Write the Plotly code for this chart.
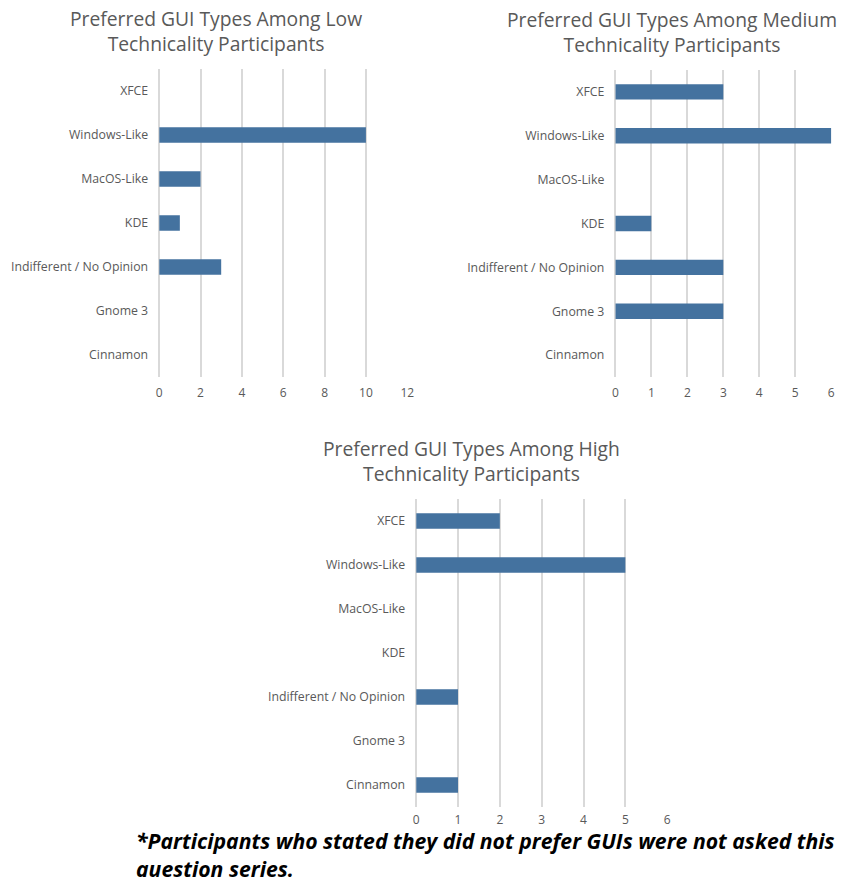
import plotly.graph_objects as go

categories = ["XFCE", "Windows-Like", "MacOS-Like", "KDE", "Indifferent / No Opinion", "Gnome 3", "Cinnamon"]
low_values = [0, 10, 2, 1, 3, 0, 0]
medium_values = [3, 6, 0, 1, 3, 3, 0]
high_values = [2, 5, 0, 0, 1, 0, 1]

titles = [
    "Preferred GUI Types Among Low<br>Technicality Participants",
    "Preferred GUI Types Among Medium<br>Technicality Participants",
    "Preferred GUI Types Among High<br>Technicality Participants",
]
footnote = "<b><i>*Participants who stated they did not prefer GUIs were not asked this<br>question series.</i></b>"

W, H = 864, 877
BAR = "#44729f"
TXT = "#595959"
GRID = "#d9d9d9"
FONT = "Open Sans"

fig = go.Figure()

panels = [
    # values, x0px, x1px, ytop, ybot, xmax, dtick, title center x, title y, x standoff
    (low_values, 158, 409, 69, 377, 12, 2, 215, 31, 7),
    (medium_values, 619.5, 838, 70, 377, 6, 1, 677, 32, 7),
    (high_values, 418, 672, 499, 807, 6, 1, 474, 461, 4),
]

for i, (vals, x0, x1, yt, yb, xmax, dt, tx, ty, so) in enumerate(panels):
    n = "" if i == 0 else str(i + 1)
    fig.add_trace(go.Bar(
        x=vals, y=categories, orientation="h",
        marker=dict(color=BAR, line=dict(width=0)),
        width=0.35, xaxis="x" + n, yaxis="y" + n, showlegend=False,
    ))
    fig.update_layout(**{
        "xaxis" + n: dict(
            domain=[x0 / W, x1 / W], range=[0, xmax], dtick=dt, tick0=0,
            showgrid=True, gridcolor=GRID, gridwidth=1.5,
            zeroline=True, zerolinecolor=GRID, zerolinewidth=1.5,
            showline=False, ticks="", anchor="y" + n, ticklabelstandoff=so,
            tickfont=dict(family=FONT, size=12, color=TXT), fixedrange=True,
        ),
        "yaxis" + n: dict(
            domain=[1 - yb / H, 1 - yt / H], type="category",
            categoryorder="array", categoryarray=categories[::-1],
            showgrid=False, zeroline=False, showline=False, ticks="",
            anchor="x" + n, ticklabelstandoff=10,
            tickfont=dict(family=FONT, size=12.3, color=TXT), fixedrange=True,
        ),
    })
    fig.add_annotation(
        text=titles[i], x=tx / W, y=1 - ty / H, xref="paper", yref="paper",
        showarrow=False, xanchor="center", yanchor="middle",
        font=dict(family=FONT, size=19.3, color=TXT), align="center",
    )

fig.add_annotation(
    text=footnote, x=133 / W, y=1 - 854 / H, xref="paper", yref="paper",
    showarrow=False, xanchor="left", yanchor="middle", align="left",
    font=dict(family=FONT, size=21.2, color="#000000"),
)

fig.update_layout(
    width=W, height=H, margin=dict(l=0, r=0, t=0, b=0),
    paper_bgcolor="white", plot_bgcolor="white", bargap=0.65,
)

fig.write_html("out.html")
